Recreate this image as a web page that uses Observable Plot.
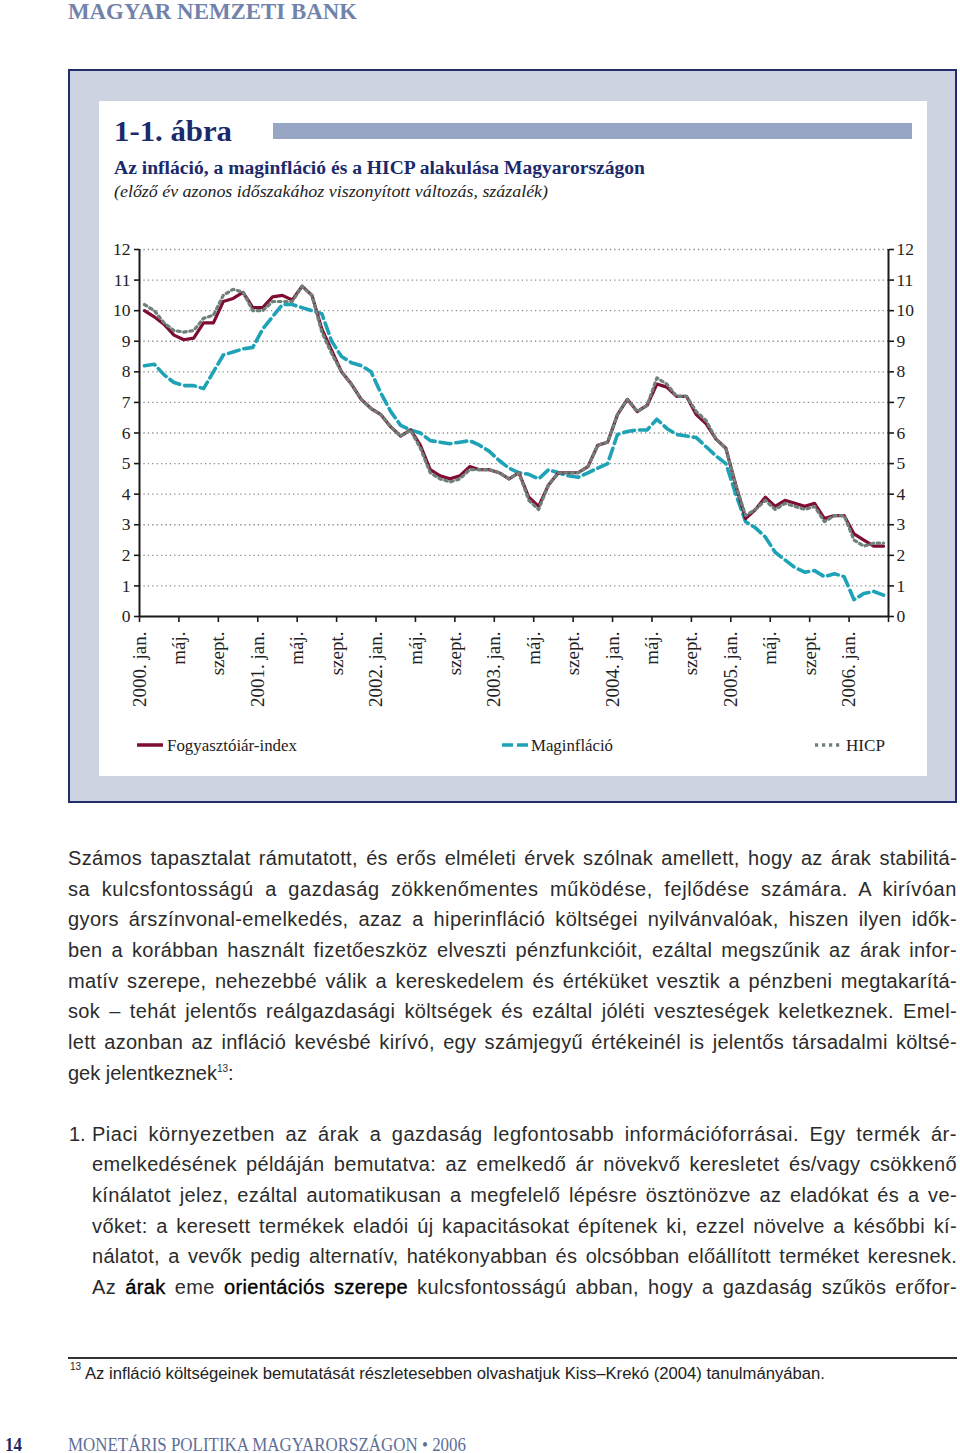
<!DOCTYPE html>
<html><head><meta charset="utf-8">
<script src="https://cdn.jsdelivr.net/npm/d3@7"></script>
<script src="https://cdn.jsdelivr.net/npm/@observablehq/plot@0.6"></script>
<style>
html,body{margin:0;padding:0;background:#fff;}
body{width:960px;height:1453px;position:relative;overflow:hidden;font-family:"Liberation Sans",Arial,sans-serif;}
.abs{position:absolute;white-space:nowrap;line-height:1;}
.serif{font-family:"Liberation Serif","Times New Roman",serif;}
.sans{font-family:"Liberation Sans",Arial,sans-serif;}
.fit{transform-origin:0 0;display:inline-block;}
.body{font-size:20px;color:#2b2b2b;}
.body b{font-weight:normal;color:#000;-webkit-text-stroke:0.35px #000;}
#frame{position:absolute;left:68px;top:69px;width:889px;height:734px;box-sizing:border-box;border:2px solid #1f2d6a;background:#cdd3e1;}
#inner{position:absolute;left:99px;top:101px;width:828px;height:675px;background:#fff;}
#bar{position:absolute;left:273px;top:123px;width:639px;height:16px;background:#97a6c4;}
#chart{position:absolute;left:99px;top:230px;}
#chart svg{overflow:visible;background:transparent;}
#rule{position:absolute;left:68px;top:1357px;width:889px;height:2px;background:#333;}
</style></head><body>

<div class="abs serif" data-fit="289" data-fs="24" data-base="19" style="left:68px;font-weight:bold;color:#7283ab;">MAGYAR NEMZETI BANK</div>

<div id="frame"></div>
<div id="inner"></div>
<div id="bar"></div>
<div class="abs serif" data-fit="118" data-fs="30" data-base="141" style="left:114px;font-weight:bold;color:#1b2a6b;">1-1. ábra</div>
<div class="abs serif" data-fit="531" data-fs="18" data-base="174" style="left:114px;font-weight:bold;color:#1b2a6b;">Az infláció, a maginfláció és a HICP alakulása Magyarországon</div>
<div class="abs serif" data-fit="434" data-fs="16" data-base="197" style="left:114px;font-style:italic;color:#222;">(előző év azonos időszakához viszonyított változás, százalék)</div>

<div id="chart"></div>

<svg class="abs" style="left:135px;top:738px" width="32" height="14"><line x1="2" x2="28" y1="7" y2="7" stroke="#7e0c33" stroke-width="3.5"/></svg>
<div class="abs serif" data-fit="130" data-fs="17" data-base="751" style="left:167px;color:#222;">Fogyasztóiár-index</div>
<svg class="abs" style="left:500px;top:738px" width="32" height="14"><line x1="2" x2="28" y1="7" y2="7" stroke="#1ea2b6" stroke-width="3.5" stroke-dasharray="11,4"/></svg>
<div class="abs serif" data-fit="82" data-fs="17" data-base="751" style="left:531px;color:#222;">Maginfláció</div>
<svg class="abs" style="left:813px;top:738px" width="32" height="14"><line x1="2" x2="30" y1="7" y2="7" stroke="#6f8079" stroke-width="3.4" stroke-dasharray="3.2,3.8"/></svg>
<div class="abs serif" data-fit="39" data-fs="17" data-base="751" style="left:846px;color:#222;">HICP</div>

<div id="text"></div>

<div id="rule"></div>
<div class="abs sans" style="left:70px;top:1362px;font-size:10px;color:#222;">13</div>
<div class="abs sans" data-fit="740" data-fs="16" data-base="1380" style="left:85px;color:#222;">Az infláció költségeinek bemutatását részletesebben olvashatjuk Kiss–Krekó (2004) tanulmányában.</div>

<div class="abs serif" data-fit="17" data-fs="18" data-base="1451" style="left:5px;font-weight:bold;color:#1b2a5c;">14</div>
<div class="abs serif" data-fit="398" data-fs="18" data-base="1451" style="left:68px;color:#5d6e98;">MONETÁRIS POLITIKA MAGYARORSZÁGON • 2006</div>

<script>
// ---- data (% yoy), monthly Jan 2000 – Apr 2006 ----
const cpi = [
  10.0, 9.8, 9.55, 9.2, 9.05, 9.1, 9.6, 9.6, 10.3, 10.4, 10.6, 10.1,
  10.1, 10.45, 10.5, 10.35, 10.8, 10.5, 9.4, 8.7, 8.0, 7.6, 7.1, 6.8,
  6.6, 6.2, 5.9, 6.1, 5.6, 4.8, 4.6, 4.5, 4.6, 4.9, 4.8, 4.8,
  4.7, 4.5, 4.7, 3.9, 3.6, 4.3, 4.7, 4.7, 4.7, 4.9, 5.6, 5.7,
  6.6, 7.1, 6.7, 6.9, 7.6, 7.5, 7.2, 7.2, 6.6, 6.3, 5.8, 5.5,
  4.3, 3.2, 3.5, 3.9, 3.6, 3.8, 3.7, 3.6, 3.7, 3.2, 3.3, 3.3,
  2.7, 2.5, 2.3, 2.3
];
const core = [
  8.2, 8.25, 7.9, 7.65, 7.55, 7.55, 7.45, 8.0, 8.55, 8.65, 8.75, 8.8,
  9.4, 9.8, 10.2, 10.2, 10.1, 10.0, 9.9, 9.0, 8.5, 8.3, 8.2, 8.0,
  7.3, 6.7, 6.25, 6.1, 6.0, 5.75, 5.7, 5.65, 5.7, 5.75, 5.6, 5.4,
  5.1, 4.85, 4.7, 4.65, 4.5, 4.8, 4.7, 4.6, 4.55, 4.7, 4.85, 5.0,
  5.95, 6.05, 6.1, 6.1, 6.45, 6.15, 5.95, 5.9, 5.85, 5.55, 5.25, 5.0,
  4.0, 3.1, 2.9, 2.6, 2.1, 1.85, 1.6, 1.45, 1.5, 1.3, 1.4, 1.3,
  0.55, 0.75, 0.82, 0.7
];
const hicp = [
  10.2, 10.0, 9.6, 9.35, 9.3, 9.35, 9.75, 9.85, 10.5, 10.7, 10.6, 10.0,
  10.0, 10.3, 10.3, 10.3, 10.8, 10.5, 9.3, 8.6, 8.0, 7.6, 7.1, 6.8,
  6.6, 6.2, 5.9, 6.1, 5.5, 4.7, 4.5, 4.4, 4.5, 4.8, 4.8, 4.8,
  4.7, 4.5, 4.7, 3.8, 3.5, 4.3, 4.7, 4.7, 4.7, 4.9, 5.6, 5.7,
  6.6, 7.1, 6.7, 6.9, 7.8, 7.6, 7.2, 7.2, 6.7, 6.4, 5.8, 5.5,
  4.3, 3.3, 3.5, 3.8, 3.5, 3.7, 3.6, 3.5, 3.6, 3.1, 3.3, 3.3,
  2.5, 2.3, 2.4, 2.4
];
const tickLabels = ["2000. jan.","máj.","szept.","2001. jan.","máj.","szept.","2002. jan.","máj.","szept.",
  "2003. jan.","máj.","szept.","2004. jan.","máj.","szept.","2005. jan.","máj.","szept.","2006. jan."];
const yTicks = [0,1,2,3,4,5,6,7,8,9,10,11,12];

// ---- chart ----
const nMonths = cpi.length; // 76
const toRows = arr => arr.map((v, i) => ({t: i + 0.5, v}));
const tickMonths = d3.range(0, nMonths + 1, 4);
const fontFam = "'Liberation Serif','Times New Roman',serif";

const chart = Plot.plot({
  width: 828, height: 490,
  marginLeft: 40, marginRight: 39, marginTop: 19, marginBottom: 104,
  x: {domain: [0, nMonths]},
  y: {domain: [0, 12]},
  style: {fontFamily: fontFam, fontSize: "17px", color: "#222", background: "transparent"},
  marks: [
    Plot.ruleY(yTicks.filter(d => d > 0), {x1: 0, x2: nMonths, stroke: "#8c8c8c", strokeWidth: 1.3, strokeDasharray: "1.3,3.1"}),
    Plot.line(toRows(core), {x: "t", y: "v", stroke: "#1ea2b6", strokeWidth: 3.6, strokeDasharray: "11,5"}),
    Plot.line(toRows(cpi), {x: "t", y: "v", stroke: "#7e0c33", strokeWidth: 3.2}),
    Plot.line(toRows(hicp), {x: "t", y: "v", stroke: "#6f8079", strokeWidth: 3.2, strokeDasharray: "2.6,3.6"}),
    Plot.ruleX([0, nMonths], {y1: 0, y2: 12, stroke: "#1a1a1a", strokeWidth: 2}),
    Plot.ruleY([0], {x1: 0, x2: nMonths, stroke: "#1a1a1a", strokeWidth: 2}),
    Plot.axisY({anchor: "left", ticks: yTicks, tickSize: 5, tickPadding: 4, tickFormat: d => String(d), label: null, fontSize: 17.5, strokeWidth: 1.6, stroke: "#1a1a1a"}),
    Plot.axisY({anchor: "right", ticks: yTicks, tickSize: 5, tickPadding: 3, tickFormat: d => String(d), label: null, fontSize: 17.5, strokeWidth: 1.6, stroke: "#1a1a1a"}),
    Plot.axisX({anchor: "bottom", ticks: tickMonths, tickSize: 6, tickPadding: 9, tickRotate: -90,
      tickFormat: d => tickLabels[d / 4] ?? "", label: null, fontSize: 19, strokeWidth: 1.6, stroke: "#1a1a1a"})
  ]
});
document.getElementById("chart").appendChild(chart);

// ---- body text ----
const para1 = [
  "Számos tapasztalat rámutatott, és erős elméleti érvek szólnak amellett, hogy az árak stabilitá-",
  "sa kulcsfontosságú a gazdaság zökkenőmentes működése, fejlődése számára. A kirívóan",
  "gyors árszínvonal-emelkedés, azaz a hiperinfláció költségei nyilvánvalóak, hiszen ilyen idők-",
  "ben a korábban használt fizetőeszköz elveszti pénzfunkcióit, ezáltal megszűnik az árak infor-",
  "matív szerepe, nehezebbé válik a kereskedelem és értéküket vesztik a pénzbeni megtakarítá-",
  "sok – tehát jelentős reálgazdasági költségek és ezáltal jóléti veszteségek keletkeznek. Emel-",
  "lett azonban az infláció kevésbé kirívó, egy számjegyű értékeinél is jelentős társadalmi költsé-"
];
const para1Last = "gek jelentkeznek<sup style=\"font-size:10px;vertical-align:8px\">13</sup>:";
const list1 = [
  "Piaci környezetben az árak a gazdaság legfontosabb információforrásai. Egy termék ár-",
  "emelkedésének példáján bemutatva: az emelkedő ár növekvő keresletet és/vagy csökkenő",
  "kínálatot jelez, ezáltal automatikusan a megfelelő lépésre ösztönözve az eladókat és a ve-",
  "vőket: a keresett termékek eladói új kapacitásokat építenek ki, ezzel növelve a későbbi kí-",
  "nálatot, a vevők pedig alternatív, hatékonyabban és olcsóbban előállított terméket keresnek.",
  "Az <b>árak</b> eme <b>orientációs szerepe</b> kulcsfontosságú abban, hogy a gazdaság szűkös erőfor-"
];

const textBox = document.getElementById("text");
const lineStep = 30.64, base0 = 865, fsBody = 20;
const sansBase = 0.8465;
function addLine(html, left, right, baseline, justify) {
  const d = document.createElement("div");
  d.className = "abs body";
  d.style.left = left + "px";
  d.style.top = (baseline - sansBase * fsBody) + "px";
  const s = document.createElement("span");
  s.innerHTML = html;
  d.appendChild(s);
  textBox.appendChild(d);
  if (justify) {
    const w = s.getBoundingClientRect().width;
    const target = right - left;
    const diff = target - w;
    const txt = s.textContent;
    const spaces = (txt.match(/ /g) || []).length;
    if (diff >= 0 && spaces) {
      const ls = (diff * 0.5) / txt.length;
      s.style.letterSpacing = ls + "px";
      const w2 = s.getBoundingClientRect().width;
      s.style.wordSpacing = ((target - w2) / spaces) + "px";
    } else {
      s.style.letterSpacing = (diff / txt.length) + "px";
    }
  }
}
para1.forEach((l, i) => addLine(l, 68, 957, base0 + i * lineStep, true));
addLine(para1Last, 68, 957, base0 + 7 * lineStep, false);
addLine("1.", 69, 957, base0 + 9 * lineStep, false);
list1.forEach((l, i) => addLine(l, 92, 957, base0 + (9 + i) * lineStep, true));

// ---- fit headings by baseline + width ----
document.querySelectorAll("[data-fit]").forEach(el => {
  const fs = +el.dataset.fs, target = +el.dataset.fit, base = +el.dataset.base;
  const isSans = el.classList.contains("sans");
  el.style.fontSize = fs + "px";
  el.style.top = (base - (isSans ? 0.8465 : 0.8375) * fs) + "px";
  const inner = document.createElement("span");
  inner.className = "fit";
  inner.innerHTML = el.innerHTML;
  el.innerHTML = "";
  el.appendChild(inner);
  const w = inner.getBoundingClientRect().width;
  inner.style.transform = `scaleX(${target / w})`;
});
</script>
</body></html>
